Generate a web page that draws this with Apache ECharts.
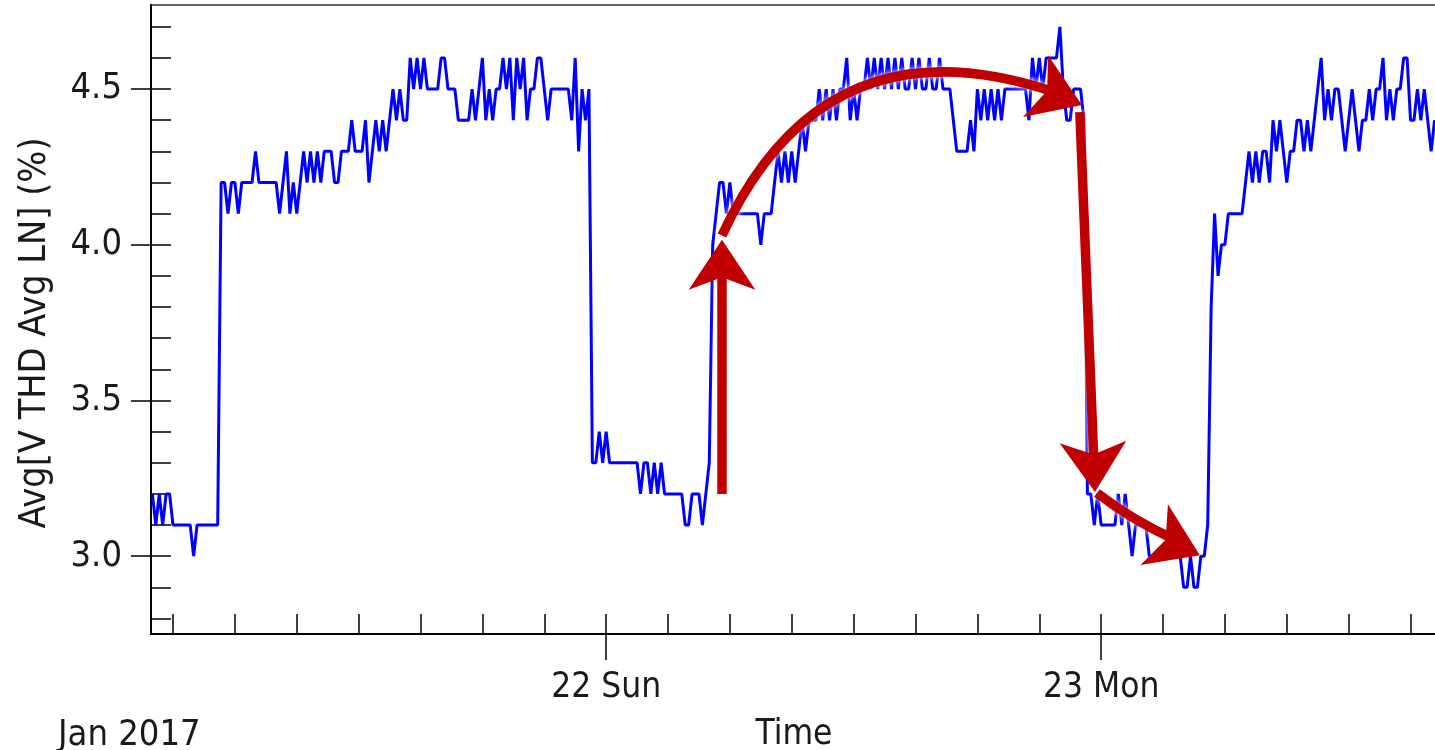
<!DOCTYPE html>
<html>
<head>
<meta charset="utf-8">
<title>Avg V THD</title>
<script src="https://cdn.jsdelivr.net/npm/echarts@6/dist/echarts.min.js"></script>
<style>
html, body { margin: 0; padding: 0; background: #fff; }
#main { width: 1435px; height: 750px; }
</style>
</head>
<body>
<div id="main"></div>
<script>
// local time parser, 'YYYY-MM-DD HH:mm'
function t(s) {
    var p = s.split(/[- :]/);
    return new Date(+p[0], p[1] - 1, +p[2], +(p[3] || 0), +(p[4] || 0)).getTime();
}

// samples every 10 minutes from Jan 21 02:00
var sampleStart = '2017-01-21 02:00';
var sampleStepMin = 10;
var thdValues = [
    3.2,3.1,3.2,3.1,3.2,3.2,3.1,3.1,3.1,3.1, 3.1,3.1,3.0,3.1,3.1,3.1,3.1,3.1,3.1,3.1,
    4.2,4.2,4.1,4.2,4.2,4.1,4.2,4.2,4.2,4.2, 4.3,4.2,4.2,4.2,4.2,4.2,4.2,4.1,4.2,4.3, 4.1,4.2,4.1,4.2,
    4.3,4.2,4.3,4.2,4.3,4.2,
    4.3,4.3,4.3,4.2,4.2,4.3,4.3,4.3,4.4,4.3, 4.3,4.3,4.4,4.2,4.3,4.4,4.3,4.4,4.3,4.4, 4.5,4.4,4.5,4.4,4.4,
    4.6,4.5,4.6,4.5,4.6,4.5,4.5,4.5,4.5,4.6, 4.6,4.5,4.5,4.5,4.4,4.4,4.4,4.4,4.5,4.4, 4.5,4.6,4.4,4.5,4.4,
    4.5,4.5,4.6,4.5,4.6,4.4,4.6,4.5,4.6,4.4, 4.5,4.5,4.6,4.6,4.5,4.4,4.5,4.5,4.5,4.5, 4.5,4.5,4.4,4.6,4.3,4.5,4.4,4.5,
    3.3,3.3,3.4,3.3,3.4,3.3,3.3,3.3,3.3,3.3, 3.3,3.3,3.3,3.3,3.2,3.3,3.3,3.2,3.3,3.2, 3.3,3.2,3.2,3.2,3.2,3.2,3.2,3.1,3.1,3.2, 3.2,3.2,3.1,3.2,3.3,
    4.0,4.1,4.2,4.2,4.1,4.2,4.1, 4.1,4.1,4.1,4.1,4.1,4.1,4.1, 4.0, 4.1,4.1,4.1, 4.2,4.3,4.2,4.3,4.2,4.3,4.2,4.3,
    4.4,4.3,4.4,4.4,4.4,4.5,4.4,4.5,4.4,4.5, 4.4,4.5,4.5,4.6,4.4,4.5,4.4,4.5,4.5,4.6, 4.5,4.6,4.5,4.6,4.5,4.6,4.5,4.6,4.5,4.6,
    4.5,4.5,4.6,4.5,4.6,4.5,4.5,4.6,4.5,4.5, 4.6,4.5,4.5,4.5,
    4.4,4.3,4.3,4.3,4.3,4.4,4.3,4.5,4.4,4.5, 4.4,4.5,4.4,4.5,4.4,4.5,4.5,4.5,4.5,4.5, 4.5,4.5,4.4,4.6,4.5,4.6,4.5,4.6,4.6,4.6,
    4.6,4.7,4.5,4.4,4.4,4.5,4.5,4.5,4.4,
    3.2,3.2,3.1,3.2,3.1,3.1,3.1,3.1,3.1,3.2, 3.1,3.2,3.1,3.0,3.1,3.1,3.1,3.1,3.0,3.0, 3.0,3.0,3.0,3.0,3.0,3.0,3.0,3.0,2.9,2.9,
    3.0,2.9,2.9,3.0,3.0,3.1,
    3.8,4.1,3.9,4.0,4.0,4.1,4.1,4.1,4.1,4.1, 4.2,4.3,4.2,4.3,4.2,4.3,4.3,4.2,4.4,4.3, 4.4,4.3,4.2,4.3,4.3,4.4,4.4,4.3,4.4,4.3,
    4.4,4.5,4.6,4.4,4.5,4.4,4.5,4.5,4.4,4.3, 4.4,4.5,4.4,4.3,4.4,4.4,4.5,4.4,4.5,4.5, 4.6,4.4,4.5,4.4,4.5,4.5,4.6,4.6,4.4,4.4,
    4.5,4.4,4.5,4.4,4.3,4.4
];

var xMin = '2017-01-21 01:56';
var xMax = '2017-01-23 16:17';
var dayTicks = ['2017-01-22 00:00', '2017-01-23 00:00'];
var dayLabels = ['22 Sun', '23 Mon'];
var yMajorTicks = [3.0, 3.5, 4.0, 4.5];
var yMinorTicks = [2.8, 2.9, 3.0, 3.1, 3.2, 3.3, 3.4, 3.5, 3.6, 3.7, 3.8, 3.9, 4.0, 4.1, 4.2, 4.3, 4.4, 4.5, 4.6, 4.7];

// annotation arrows (data coords): tail, end of shaft, tip of head
var arrowFrom = [['2017-01-22 05:37', 3.2], ['2017-01-22 05:37', 4.03], ['2017-01-22 22:58', 4.426], ['2017-01-22 23:48', 3.2025]];
var arrowShaftEnd = [['2017-01-22 05:37', 3.919], ['2017-01-22 21:45', 4.49], ['2017-01-22 23:39', 3.302], ['2017-01-23 03:33', 3.054]];
var arrowTip = [['2017-01-22 05:37', 4.016], ['2017-01-22 23:04', 4.449], ['2017-01-22 23:42', 3.206], ['2017-01-23 04:47', 3.003]];
var arrowBend = [0, 0.45, 0, -0.06];

var seriesData = [];
var t0 = t(sampleStart);
for (var i = 0; i < thdValues.length; i++) {
    seriesData.push([t0 + i * sampleStepMin * 60000, thdValues[i]]);
}

var minorX = [];
for (var m = t('2017-01-21 03:00'); m <= t(xMax); m += 3 * 3600000) minorX.push(m);
var dayX = dayTicks.map(t);

function pt(p) { return [t(p[0]), p[1]]; }
var shaftData = [], headData = [];
for (var k = 0; k < arrowFrom.length; k++) {
    shaftData.push({ coords: [pt(arrowFrom[k]), pt(arrowShaftEnd[k])], lineStyle: { curveness: arrowBend[k] } });
    headData.push({ coords: [pt(arrowFrom[k]), pt(arrowTip[k])], lineStyle: { curveness: arrowBend[k] } });
}

var font = 'DejaVu Sans Condensed';
var ink = '#1a1a1a';
var arrowRed = '#c00000';

var myChart = echarts.init(document.getElementById('main'));
var option = {
    animation: false,
    backgroundColor: '#fff',
    grid: {
        left: 151, top: 5, width: 1286, height: 629,
        outerBoundsMode: 'none',
        show: true, borderColor: '#666', borderWidth: 2, backgroundColor: 'transparent'
    },
    xAxis: [
        {
            type: 'value', min: t(xMin), max: t(xMax), scale: true,
            axisLine: { show: true, onZero: false, lineStyle: { color: '#000', width: 2 } },
            axisTick: { show: true, inside: true, length: 20, customValues: minorX, lineStyle: { color: '#000', width: 1.5 } },
            axisLabel: { show: false },
            splitLine: { show: false },
            name: 'Time', nameLocation: 'middle', nameGap: 83,
            nameTextStyle: { fontFamily: font, fontSize: 35, color: ink }
        },
        {
            type: 'value', min: t(xMin), max: t(xMax), scale: true, position: 'bottom',
            axisLine: { show: false, onZero: false },
            axisTick: { show: true, inside: false, length: 26, customValues: dayX, lineStyle: { color: '#000', width: 1.5 } },
            axisLabel: {
                show: true, customValues: dayX, margin: 36,
                fontFamily: font, fontSize: 35, color: ink,
                formatter: function (v) {
                    var idx = dayX.indexOf(v);
                    return idx >= 0 ? dayLabels[idx] : '';
                }
            },
            splitLine: { show: false }
        }
    ],
    yAxis: [
        {
            type: 'value', min: 2.75, max: 4.77,
            axisLine: { show: true, onZero: false, lineStyle: { color: '#000', width: 2 } },
            axisTick: { show: true, inside: true, length: 20, customValues: yMinorTicks, lineStyle: { color: '#000', width: 1.5 } },
            axisLabel: { show: false },
            splitLine: { show: false }
        },
        {
            type: 'value', min: 2.75, max: 4.77, position: 'left',
            axisLine: { show: false, onZero: false },
            axisTick: { show: true, inside: false, length: 20, customValues: yMajorTicks, lineStyle: { color: '#000', width: 1.5 } },
            axisLabel: {
                show: true, customValues: yMajorTicks, margin: 29,
                fontFamily: font, fontSize: 36, color: ink,
                formatter: function (v) { return v.toFixed(1); }
            },
            splitLine: { show: false }
        }
    ],
    graphic: [
        {
            type: 'text', x: 35, y: 333, rotation: Math.PI / 2,
            style: { text: 'Avg[V THD Avg LN] (%)', fontFamily: font, fontSize: 37.5, fill: ink, align: 'center', verticalAlign: 'middle' }
        },
        {
            type: 'text', x: 58, y: 736,
            style: { text: 'Jan 2017', fontFamily: font, fontSize: 36, fill: ink, align: 'left', verticalAlign: 'middle' }
        }
    ],
    series: [
        {
            name: 'Avg V THD Avg LN',
            type: 'line',
            xAxisIndex: 0, yAxisIndex: 0,
            data: seriesData,
            showSymbol: false,
            lineStyle: { color: '#0000ff', width: 3 },
            z: 2
        },
        {
            type: 'lines',
            coordinateSystem: 'cartesian2d',
            xAxisIndex: 0, yAxisIndex: 0,
            symbol: 'none',
            lineStyle: { color: arrowRed, width: 9.5, opacity: 1, cap: 'butt', shadowColor: '#ffffff', shadowBlur: 6 },
            data: shaftData,
            z: 10
        },
        {
            type: 'lines',
            coordinateSystem: 'cartesian2d',
            xAxisIndex: 0, yAxisIndex: 0,
            symbol: ['none', 'arrow'],
            symbolSize: [30, 50],
            lineStyle: { color: arrowRed, width: 0, opacity: 1 },
            data: headData,
            z: 11
        }
    ]
};
myChart.setOption(option);
</script>
</body>
</html>
